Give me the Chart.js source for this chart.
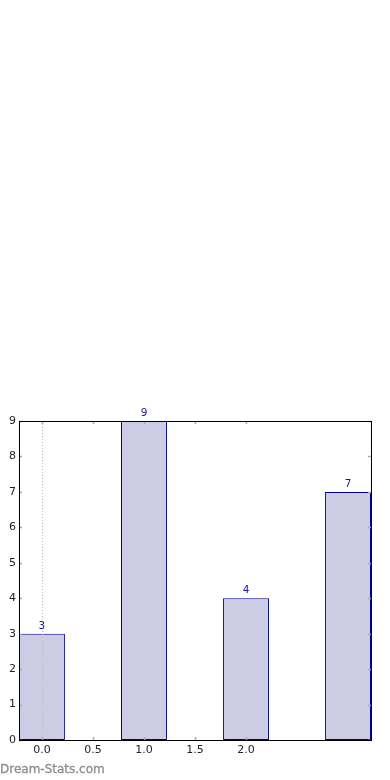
<!DOCTYPE html>
<html>
<head>
<meta charset="utf-8">
<script src="https://cdn.jsdelivr.net/npm/chart.js@4/dist/chart.umd.min.js"></script>
<style>
  html, body { margin: 0; padding: 0; background: #fff; }
  #wrap { position: relative; width: 390px; height: 780px; }
  #brand {
    position: absolute; left: 0; top: 762px;
    font: 12px "DejaVu Sans", sans-serif; color: #8c8c8c;
    -webkit-text-stroke: 0.3px #8c8c8c;
  }
</style>
</head>
<body>
<div id="wrap">
  <canvas id="myChart" width="390" height="780"></canvas>
  <div id="brand">Dream-Stats.com</div>
</div>
<script>
// данные графика
const positions = [0, 1, 2, 3];
const values = [3, 9, 4, 7];
const xTicks = [0, 0.5, 1, 1.5, 2];
const yTicks = [0, 1, 2, 3, 4, 5, 6, 7, 8, 9];

// рамка, внутренние засечки, пунктир на нуле и подписи над столбцами
const framePlugin = {
    id: 'framePlugin',
    afterDatasetsDraw(chart) {
        const { ctx, chartArea: a, scales } = chart;
        const xs = scales.x, ys = scales.y;
        ctx.save();

        // пунктирная линия на x = 0
        const x0 = Math.round(xs.getPixelForValue(0)) + 0.5;
        ctx.strokeStyle = '#bbbbbb';
        ctx.lineWidth = 1;
        ctx.setLineDash([1, 2]);
        ctx.beginPath();
        ctx.moveTo(x0, a.top);
        ctx.lineTo(x0, a.bottom);
        ctx.stroke();
        ctx.setLineDash([]);

        // засечки внутрь
        ctx.strokeStyle = '#aaaaaa';
        ctx.lineWidth = 1.5;
        ctx.beginPath();
        xTicks.forEach(v => {
            const px = Math.round(xs.getPixelForValue(v)) + 0.5;
            ctx.moveTo(px, a.bottom); ctx.lineTo(px, a.bottom - 3);
            ctx.moveTo(px, a.top); ctx.lineTo(px, a.top + 3);
        });
        yTicks.forEach(v => {
            const py = Math.round(ys.getPixelForValue(v)) + 0.5;
            ctx.moveTo(a.left, py); ctx.lineTo(a.left + 3, py);
            ctx.moveTo(a.right, py); ctx.lineTo(a.right - 3, py);
        });
        ctx.stroke();

        // рамка
        ctx.strokeStyle = '#000';
        ctx.lineWidth = 1;
        ctx.strokeRect(Math.round(a.left) + 0.5, Math.round(a.top) + 0.5,
            Math.round(a.right - a.left), Math.round(a.bottom - a.top));

        // цифры над столбцами
        ctx.fillStyle = '#1a1a8c';
        ctx.font = '10.5px "DejaVu Sans", sans-serif';
        ctx.textAlign = 'center';
        ctx.textBaseline = 'alphabetic';
        positions.forEach((p, i) => {
            ctx.fillText(values[i], xs.getPixelForValue(p), ys.getPixelForValue(values[i]) - 5);
        });
        ctx.restore();
    }
};

const ctx = document.getElementById('myChart').getContext('2d');
new Chart(ctx, {
    type: 'bar',
    data: {
        datasets: [{
            data: positions.map((p, i) => ({ x: p, y: values[i] })),
            backgroundColor: '#ccccе4'.replace('е', 'e'),
            borderColor: '#00008b',
            borderWidth: 1,
            borderSkipped: false,
            // ширина считается от шага засечек (0.5), поэтому 0.9
            barPercentage: 0.9,
            categoryPercentage: 1
        }]
    },
    options: {
        responsive: false,
        animation: false,
        layout: { padding: { top: 421, right: 19, left: 0, bottom: 0 } },
        plugins: { legend: { display: false }, tooltip: { enabled: false } },
        scales: {
            x: {
                type: 'linear',
                offset: false,
                min: -0.225, max: 3.225,
                grid: { display: false, drawTicks: false },
                border: { display: false },
                afterBuildTicks: s => { s.ticks = xTicks.map(v => ({ value: v })); },
                afterFit: s => { s.height = 40; },
                ticks: {
                    color: '#222', padding: 4,
                    font: { family: 'DejaVu Sans', size: 11 },
                    callback: v => v.toFixed(1)
                }
            },
            y: {
                min: 0, max: 9,
                grid: { display: false, drawTicks: false },
                border: { display: false },
                afterBuildTicks: s => { s.ticks = yTicks.map(v => ({ value: v })); },
                afterFit: s => { s.width = 19; },
                ticks: {
                    color: '#222', padding: 3,
                    font: { family: 'DejaVu Sans', size: 11 }
                }
            }
        }
    },
    plugins: [framePlugin]
});
</script>
</body>
</html>
